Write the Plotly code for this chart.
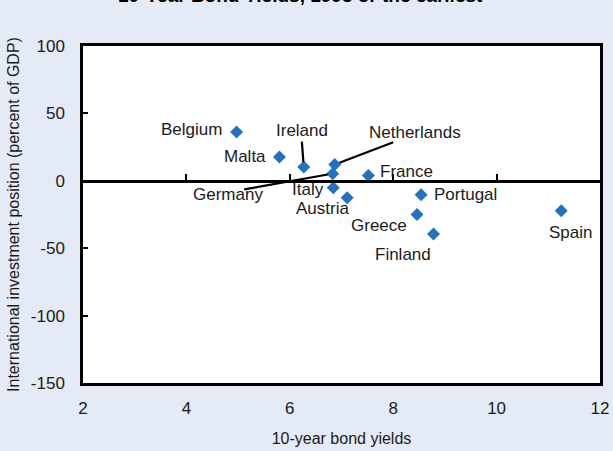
import plotly.graph_objects as go

# Country observations: 10-year bond yield vs. net international investment position
countries = ["Belgium", "Malta", "Ireland", "Netherlands", "Germany", "Italy",
             "Austria", "France", "Portugal", "Greece", "Finland", "Spain"]
bond_yield = [4.97, 5.80, 6.27, 6.87, 6.83, 6.84, 7.11, 7.52, 8.54, 8.46, 8.78, 11.25]
iip_pct_gdp = [36.2, 17.6, 10.2, 12.0, 5.3, -5.1, -12.6, 4.0, -10.3, -25.0, -39.4, -22.2]

# Label anchor positions (data units)
label_x = [4.09, 5.13, 6.23, 8.42, 4.81, 6.35, 6.64, 8.26, 9.39, 7.73, 8.19, 11.42]
label_y = [38.0, 17.7, 37.0, 36.0, -9.8, -6.8, -20.9, 6.9, -9.9, -33.5, -55.0, -38.0]

# Leader lines for crowded labels: (country, tail offset dx, dy in pixels)
leaders = [("Ireland", -2, -27), ("Netherlands", 60, -23), ("Germany", -90, 16)]

x_ticks = [2, 4, 6, 8, 10, 12]
y_ticks = [-150, -100, -50, 0, 50, 100]
y_tick_text = ["-150", "-100", "-50", "0", "50", "100"]

BG = "#E4EBF6"
FONT = "Liberation Sans, Arial, sans-serif"

fig = go.Figure()
fig.add_trace(go.Scatter(
    x=bond_yield, y=iip_pct_gdp, mode="markers",
    marker=dict(symbol="diamond", size=10, color="#2371C0"),
    hoverinfo="text", text=countries, showlegend=False,
))
# invisible trace to activate the axis drawn along y = 0
fig.add_trace(go.Scatter(x=[x_ticks[0]], y=[0], xaxis="x2", mode="markers",
                         marker=dict(opacity=0), showlegend=False, hoverinfo="skip"))

for name, lx, ly in zip(countries, label_x, label_y):
    fig.add_annotation(x=lx, y=ly, text=name, showarrow=False,
                       xanchor="center", yanchor="middle",
                       font=dict(family=FONT, size=17, color="#1a1a1a"))

for name, dx, dy in leaders:
    i = countries.index(name)
    fig.add_annotation(x=bond_yield[i], y=iip_pct_gdp[i], text="", showarrow=True,
                       arrowhead=0, arrowwidth=2.2, arrowcolor="black",
                       ax=dx, ay=dy, standoff=5)

# Chart title (runs off the top of the page)
fig.add_annotation(xref="paper", yref="paper", x=0.42, y=1.15,
                   text="<b>10-Year Bond Yields, 1993 or the earliest</b>",
                   showarrow=False, xanchor="center", yanchor="middle",
                   font=dict(family=FONT, size=19, color="black"))

fig.update_layout(
    width=613, height=451,
    margin=dict(l=83, r=13, t=46, b=68),
    paper_bgcolor=BG, plot_bgcolor="white",
    font=dict(family=FONT, size=17, color="#1a1a1a"),
    xaxis=dict(range=[2, 12], tickvals=x_ticks, showgrid=False, zeroline=False,
               showline=True, linecolor="black", linewidth=2.5, mirror=True,
               ticks="", ticklabelstandoff=8, automargin=False,
               title=dict(text="10-year bond yields", font=dict(size=16), standoff=16)),
    xaxis2=dict(range=[2, 12], tickvals=x_ticks, overlaying="x", anchor="free",
                position=0.6, showgrid=False, zeroline=False, showline=True,
                linecolor="black", linewidth=2.5, ticks="inside", ticklen=6,
                tickwidth=2, tickcolor="black", showticklabels=False,
                automargin=False),
    yaxis=dict(range=[-150, 100], tickvals=y_ticks, ticktext=y_tick_text,
               showgrid=False, zeroline=False,
               showline=True, linecolor="black", linewidth=2.5, mirror=True,
               ticks="inside", ticklen=5, tickwidth=2, tickcolor="black",
               ticklabelstandoff=12, automargin=False,
               title=dict(text="International investment position (percent of GDP)",
                          font=dict(size=16), standoff=8)),
)

fig.write_html("out.html")
